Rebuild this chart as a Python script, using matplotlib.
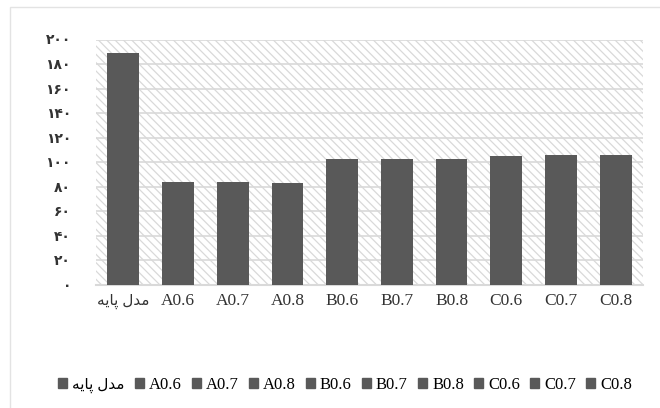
import matplotlib
matplotlib.use('Agg')
import matplotlib.pyplot as plt
from matplotlib.patches import Rectangle
from matplotlib.ticker import FuncFormatter

# data
categories = ['مدل پایه', 'A0.6', 'A0.7', 'A0.8', 'B0.6', 'B0.7', 'B0.8', 'C0.6', 'C0.7', 'C0.8']
values = [189, 84, 84, 83.5, 103, 103, 103, 105, 105.5, 105.8]
y_ticks = [0, 20, 40, 60, 80, 100, 120, 140, 160, 180, 200]

# matplotlib has no Arabic shaping, so the base label is written in
# presentation forms in visual order
shown_labels = {'مدل پایه': '\uFEEA\uFBFE\uFE8E\uFB58 \uFEDD\uFEAA\uFEE3'}

persian_digits = str.maketrans('0123456789', '۰۱۲۳۴۵۶۷۸۹')

plt.rcParams['font.family'] = ['Liberation Serif', 'DejaVu Sans']
plt.rcParams['hatch.color'] = '#d9d9d9'
plt.rcParams['hatch.linewidth'] = 0.9

bar_color = '#595959'
grid_color = '#d9d9d9'

fig = plt.figure(figsize=(6.6, 4.08), dpi=100)
W, H = 660, 408

# light outer frame of the chart area
fig.patches.append(Rectangle((10 / W, -0.1), 1.2, 1 - 7 / H + 0.1, transform=fig.transFigure,
                             fill=False, edgecolor='#e3e3e3', linewidth=1.0, zorder=0))

ax = fig.add_axes([96 / W, 1 - 285 / H, (643 - 96) / W, (285 - 39.5) / H])

# hatched plot background
ax.add_patch(Rectangle((0, 0), 1, 1, transform=ax.transAxes, facecolor='white',
                       hatch='\\\\\\\\', edgecolor='#d9d9d9', linewidth=0, zorder=0))

x = range(len(categories))
labels = [shown_labels.get(c, c) for c in categories]
bars = ax.bar(x, values, width=0.58, color=bar_color, zorder=3)

ax.set_xlim(-0.5, len(categories) - 0.5)
ax.set_ylim(0, 200)
ax.set_yticks(y_ticks)
ax.yaxis.set_major_formatter(FuncFormatter(lambda v, p: str(int(v)).translate(persian_digits)))
ax.set_xticks(list(x))
ax.set_xticklabels(labels, fontsize=12.5)
ax.get_xticklabels()[0].set_fontsize(11)
for t in ax.get_yticklabels():
    t.set_fontsize(10)
    t.set_fontweight('bold')
    t.set_color('#333333')

ax.yaxis.grid(True, color=grid_color, linewidth=1.2, zorder=1)
ax.set_axisbelow(True)
ax.tick_params(axis='both', length=0, colors='#333333')
ax.tick_params(axis='y', pad=18)
ax.tick_params(axis='x', pad=6)
for side in ['top', 'right', 'left']:
    ax.spines[side].set_visible(False)
ax.spines['bottom'].set_color(grid_color)
ax.spines['bottom'].set_linewidth(1.5)

handles = [Rectangle((0, 0), 1, 1, color=bar_color) for _ in categories]
leg = fig.legend(handles, labels, loc='center', bbox_to_anchor=(345 / W, 1 - 385 / H), ncol=10,
                 frameon=False, fontsize=12, handlelength=0.55, handleheight=0.55,
                 handletextpad=0.3, columnspacing=0.6)
leg.get_texts()[0].set_fontsize(11)

fig.savefig('out.png', dpi=100)
